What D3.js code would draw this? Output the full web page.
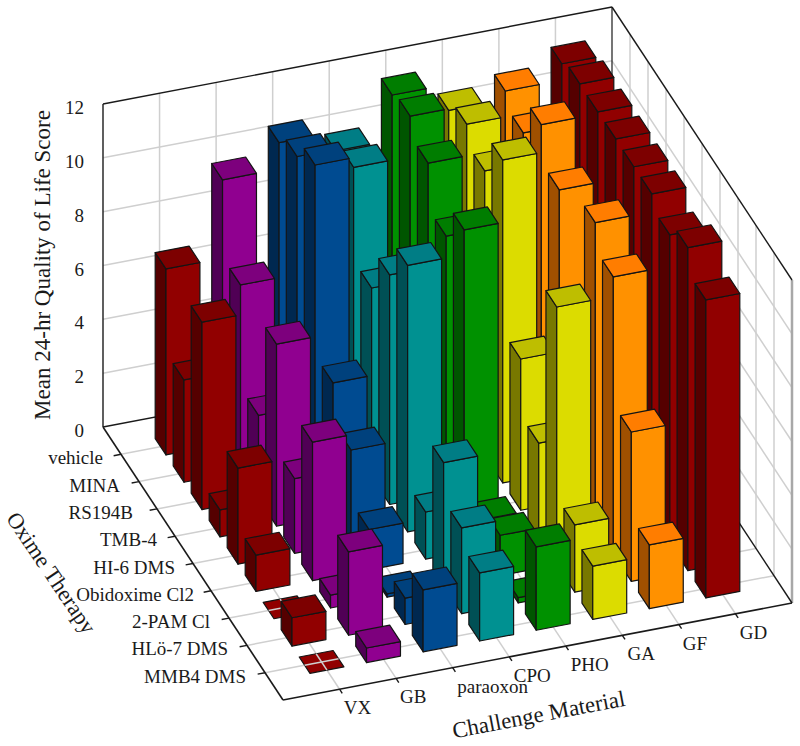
<!DOCTYPE html>
<html><head><meta charset="utf-8">
<script src="https://cdn.jsdelivr.net/npm/d3@7"></script>
<style>html,body{margin:0;padding:0;background:#fff}svg{display:block}text{font-family:"Liberation Serif","Times New Roman",serif;fill:#1a1a1a}</style>
</head><body><div id="c"></div>
<script>
const challenges = ["VX","GB","paraoxon","CPO","PHO","GA","GF","GD"];
const therapies = ["MMB4 DMS","HLö-7 DMS","2-PAM Cl","Obidoxime Cl2","HI-6 DMS","TMB-4","RS194B","MINA","vehicle"];
const zTicks = [0,2,4,6,8,10,12];

// mean score, listed in the order of `therapies`
const VX       = [0,1.05,0,1.35,3.57,1.0,6.96,3.8,6.91];
const GB       = [0.54,3.1,0.48,5.15,2.78,6.76,3.1,6.93,9.82];
const paraoxon = [2.3,0.98,0.12,1.5,3.44,4.92,12,11.3,10.8];
const CPO      = [2.53,3.19,4.6,1.75,9.9,8.53,7.03,10.5,10.1];
const PHO      = [3.1,0.2,1.5,1.07,10.82,9.57,11.27,12,11.77];
const GA       = [1.98,2.5,9.58,3.51,5.62,12,10.58,11.3,10.8];
const GF       = [2.37,5.55,10.3,11.3,5,10.49,11.9,10.58,11.12];
const GD       = [11.07,12,11.46,11.97,11.96,11.98,11.97,12,11.73];
const series = [VX,GB,paraoxon,CPO,PHO,GA,GF,GD];

const frontColors = ["#910000","#900090","#004b91","#009191","#009100","#dcdc00","#ff9100","#910000"];
const topColors   = ["#7d0000","#7d007d","#00417d","#007d85","#007d00","#bebe00","#ff7d00","#7d0000"];
const sideColors  = ["#550000","#500055","#002850","#005055","#005500","#787800","#a05000","#550000"];

const W=800,H=746, barHalf=0.3;
const xProjX=d3.scaleLinear().domain([0,9]).range([0,509]);
const xProjY=d3.scaleLinear().domain([0,9]).range([0,-97]);
const yProjX=d3.scaleLinear().domain([0,10]).range([0,-180]);
const yProjY=d3.scaleLinear().domain([0,10]).range([0,-273]);
const zProj=d3.scaleLinear().domain([0,12]).range([0,-323]);
const P=(x,y,z)=>[283+xProjX(x)+yProjX(y),700+xProjY(x)+yProjY(y)+zProj(z)];
const line=d3.line();
const poly=pts=>line(pts)+"Z";

const svg=d3.select("#c").append("svg").attr("width",W).attr("height",H);
const gridCol="#cfcfcf", gridW=1.5;
const seg=(a,b,col,w)=>svg.append("path").attr("d",line([a,b])).attr("fill","none").attr("stroke",col||gridCol).attr("stroke-width",w||gridW);

// grid
challenges.forEach((_,i)=>{const x=i+1;
  seg(P(x,0,0),P(x,10,0)); seg(P(x,10,0),P(x,10,12));});
therapies.forEach((_,i)=>{const y=i+1;
  seg(P(0,y,0),P(9,y,0)); seg(P(9,y,0),P(9,y,12));});
zTicks.slice(1,-1).forEach(z=>{seg(P(0,10,z),P(9,10,z)); seg(P(9,10,z),P(9,0,z));});
seg(P(9,0,0),P(9,0,12),"#a8a8a8",2.5);

// frame
const ink="#1a1a1a";
seg(P(0,10,12),P(9,10,12),ink,1.4);
seg(P(9,10,12),P(9,0,12),ink,1.4);
seg(P(0,10,0),P(0,10,12),ink,1.4);
seg(P(9,10,0),P(9,10,12),ink,1.2);
seg(P(0,10,0),P(9,10,0),ink,1.4);
seg(P(9,10,0),P(9,0,0),ink,1.4);
seg(P(0,0,0),P(9,0,0),ink,1.6);
seg(P(0,0,0),P(0,10,0),ink,1.6);

// ticks
challenges.forEach((_,i)=>seg(P(i+1,0,0),P(i+1,-0.15,0),ink,1.4));
therapies.forEach((_,i)=>seg(P(0,i+1,0),P(-0.13,i+1,0),ink,1.4));

// bars, far to near
const barG=svg.append("g").attr("stroke","#141414").attr("stroke-width",1.2).attr("stroke-linejoin","round");
const bars=[];
series.forEach((vals,ci)=>vals.forEach((v,ti)=>bars.push({ci,ti,v,x:ci+1,y:ti+1})));
bars.sort((a,b)=>d3.descending(a.x+a.y,b.x+b.y)||d3.descending(a.x,b.x));
bars.forEach(b=>{
  const x0=b.x-barHalf,x1=b.x+barHalf,y0=b.y-barHalf,y1=b.y+barHalf,z=b.v;
  if(z>0){
    barG.append("path").attr("d",poly([P(x0,y0,0),P(x0,y1,0),P(x0,y1,z),P(x0,y0,z)])).attr("fill",sideColors[b.ci]);
    barG.append("path").attr("d",poly([P(x0,y0,0),P(x1,y0,0),P(x1,y0,z),P(x0,y0,z)])).attr("fill",frontColors[b.ci]);
  }
  barG.append("path").attr("d",poly([P(x0,y0,z),P(x1,y0,z),P(x1,y1,z),P(x0,y1,z)])).attr("fill",z>0?topColors[b.ci]:frontColors[b.ci]);
  if(z===0){
    barG.append("path").attr("d",line([P(x0,b.y,0),P(x1,b.y,0)])).attr("stroke",gridCol).attr("stroke-width",gridW);
    barG.append("path").attr("d",line([P(b.x,y0,0),P(b.x,y1,0)])).attr("stroke",gridCol).attr("stroke-width",gridW);
  }
});

// labels
const fs=19;
const txt=(s,x,y,anchor,size,rot)=>svg.append("text").text(s).attr("font-size",size||fs).attr("text-anchor",anchor||"middle")
  .attr("transform",`translate(${x},${y})`+(rot?` rotate(${rot})`:""));
zTicks.forEach(z=>{const p=P(0,10,z);txt(z,84,p[1]+10,"end");});
const xLabelNudge=[18,17,40,23,24,19,16,18];
challenges.forEach((c,i)=>{const p=P(i+1,0,0);txt(c,p[0]+xLabelNudge[i],p[1]+25);});
const yLabelGap=[19,19,19,17,18,18,24,19,18];
therapies.forEach((t,i)=>{const p=P(0,i+1,0);txt(t,p[0]-yLabelGap[i],p[1]+10,"end");});
txt("Mean 24-hr Quality of Life Score",50,265,"middle",23,-90);
txt("Challenge Material",540,722,"middle",22.8,-10.8);
txt("Oxime Therapy",45,577,"middle",22.5,56);
</script></body></html>
